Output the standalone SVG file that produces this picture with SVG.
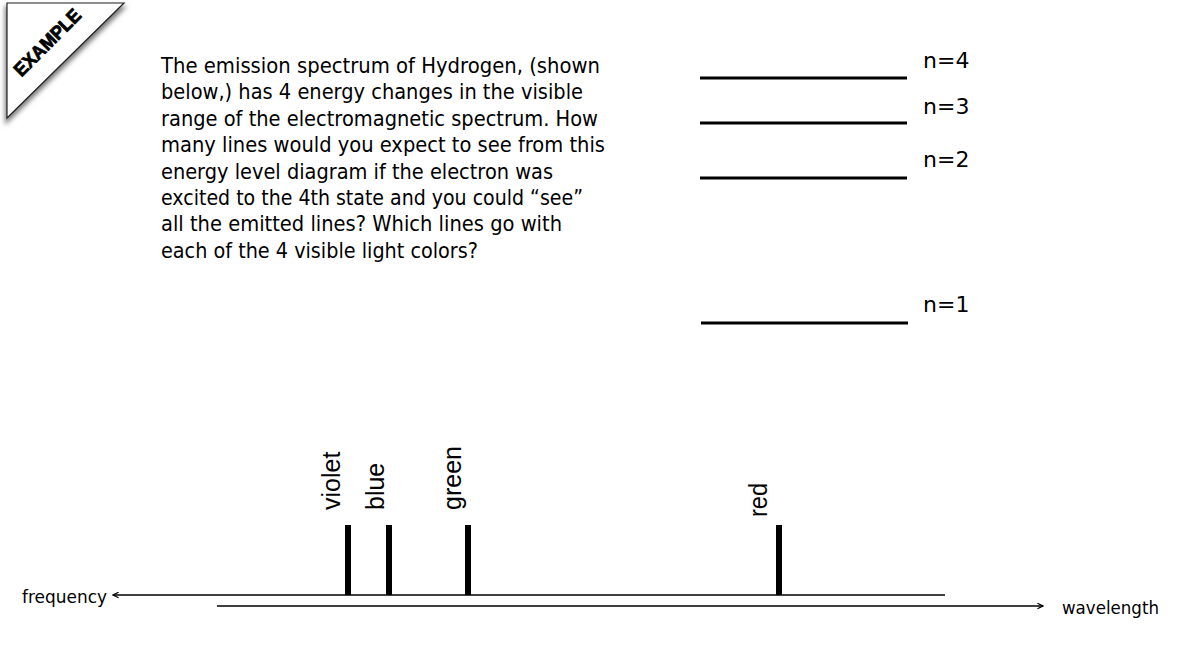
<svg xmlns="http://www.w3.org/2000/svg" width="1186" height="667" viewBox="0 0 1186 667">
<style>
.q{font-family:"DejaVu Sans",Verdana,sans-serif;font-size:21.5px;fill:#000}
.n{font-family:"DejaVu Sans",Verdana,sans-serif;font-size:22px;fill:#000}
.ax{font-family:"DejaVu Sans",Verdana,sans-serif;font-size:18px;fill:#000}
.col{font-family:"Liberation Sans",Arial,sans-serif;font-size:25px;fill:#000}
.lvl{stroke:#000;stroke-width:3;fill:none}
.bar{stroke:#000;stroke-width:6;fill:none}
.axis{stroke:#000;stroke-width:1.6;fill:none}
</style>
<defs>
<filter id="sh" x="-20%" y="-20%" width="140%" height="140%">
<feGaussianBlur stdDeviation="2.5"/>
</filter>
<marker id="ah" viewBox="0 0 10 10" refX="9" refY="5" markerWidth="7" markerHeight="7" markerUnits="userSpaceOnUse" orient="auto-start-reverse">
<path d="M1,1 L9,5 L1,9" fill="none" stroke="#000" stroke-width="1.6"/>
</marker>
</defs>
<rect width="1186" height="667" fill="#fff"/>
<g id="badge">
<polygon points="5,6 127,6 5,125" fill="#777" filter="url(#sh)"/>
<polygon points="7,3 124,3 7,118" fill="#fff" stroke="#222" stroke-width="1.2"/>
<text transform="translate(52,47) rotate(-45)" text-anchor="middle" font-family="'Liberation Sans',Arial,sans-serif" font-weight="bold" font-size="19" stroke="#000" stroke-width="0.8" textLength="86" lengthAdjust="spacingAndGlyphs">EXAMPLE</text>
</g>
<g id="question">
<text class="q" x="161" y="73" textLength="439" lengthAdjust="spacingAndGlyphs">The emission spectrum of Hydrogen, (shown</text>
<text class="q" x="161" y="99.4" textLength="422" lengthAdjust="spacingAndGlyphs">below,) has 4 energy changes in the visible</text>
<text class="q" x="161" y="125.8" textLength="437" lengthAdjust="spacingAndGlyphs">range of the electromagnetic spectrum. How</text>
<text class="q" x="161" y="152.2" textLength="444" lengthAdjust="spacingAndGlyphs">many lines would you expect to see from this</text>
<text class="q" x="161" y="178.6" textLength="392" lengthAdjust="spacingAndGlyphs">energy level diagram if the electron was</text>
<text class="q" x="161" y="205" textLength="422" lengthAdjust="spacingAndGlyphs">excited to the 4th state and you could “see”</text>
<text class="q" x="161" y="231.4" textLength="401" lengthAdjust="spacingAndGlyphs">all the emitted lines? Which lines go with</text>
<text class="q" x="161" y="257.8" textLength="317" lengthAdjust="spacingAndGlyphs">each of the 4 visible light colors?</text>
</g>
<g id="levels">
<g id="n4"><line class="lvl" x1="700" y1="78" x2="907" y2="78"/><text class="n" x="923" y="68">n=4</text></g>
<g id="n3"><line class="lvl" x1="700" y1="123" x2="907" y2="123"/><text class="n" x="923" y="114">n=3</text></g>
<g id="n2"><line class="lvl" x1="700" y1="178" x2="907" y2="178"/><text class="n" x="923" y="167">n=2</text></g>
<g id="n1"><line class="lvl" x1="701" y1="323" x2="908" y2="323"/><text class="n" x="923" y="312">n=1</text></g>
</g>
<g id="connectors">
<line class="axis" x1="945" y1="595" x2="113" y2="595" marker-end="url(#ah)"/>
<line class="axis" x1="217" y1="606" x2="1043" y2="606" marker-end="url(#ah)"/>
</g>
<g id="axis-labels">
<text class="ax" x="22" y="603" textLength="85" lengthAdjust="spacingAndGlyphs">frequency</text>
<text class="ax" x="1062" y="614" textLength="97" lengthAdjust="spacingAndGlyphs">wavelength</text>
</g>
<g id="violet"><line class="bar" x1="348" y1="525" x2="348" y2="595"/><text class="col" transform="translate(340,510) rotate(-90)">violet</text></g>
<g id="blue"><line class="bar" x1="389" y1="525" x2="389" y2="595"/><text class="col" transform="translate(384,510) rotate(-90)">blue</text></g>
<g id="green"><line class="bar" x1="468" y1="525" x2="468" y2="595"/><text class="col" transform="translate(461,510) rotate(-90)">green</text></g>
<g id="red"><line class="bar" x1="779" y1="525" x2="779" y2="595"/><text class="col" transform="translate(767,517) rotate(-90)" font-family="'DejaVu Sans',sans-serif" font-size="23" textLength="34" lengthAdjust="spacingAndGlyphs">red</text></g>
</svg>
